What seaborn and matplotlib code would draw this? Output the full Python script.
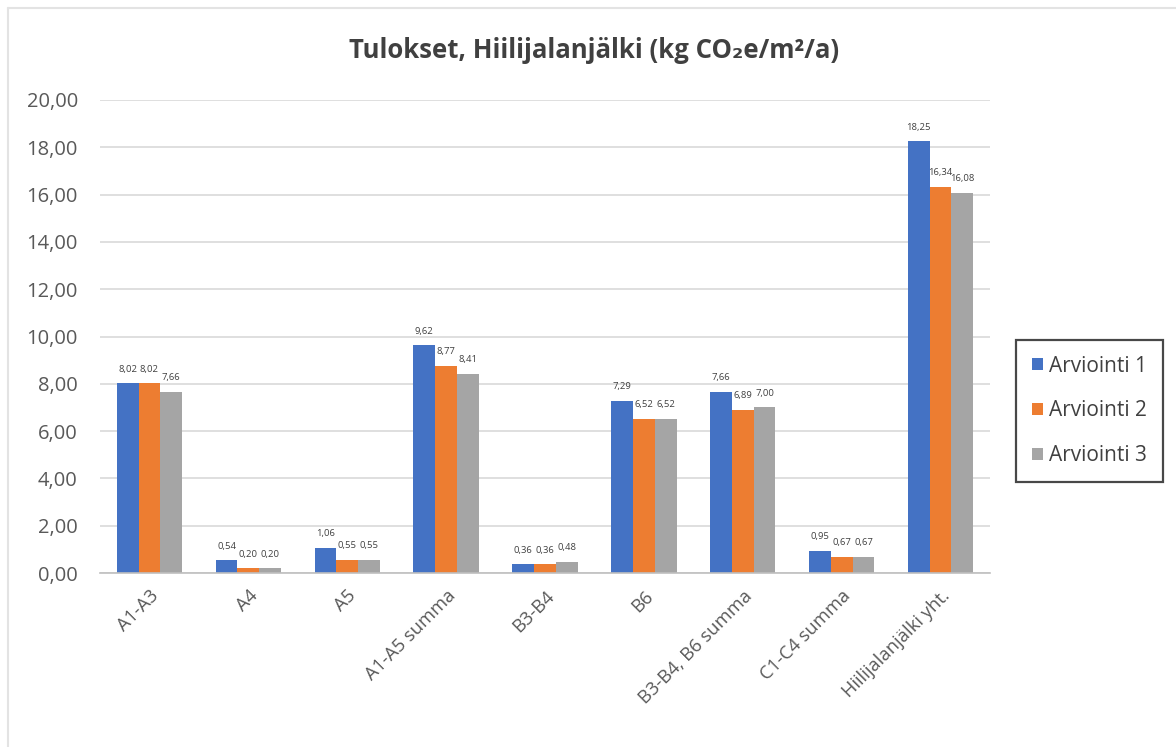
import matplotlib
matplotlib.use("Agg")
import matplotlib.pyplot as plt
import seaborn as sns
import pandas as pd
from matplotlib.lines import Line2D

categories = ["A1-A3", "A4", "A5", "A1-A5 summa", "B3-B4", "B6",
              "B3-B4, B6 summa", "C1-C4 summa", "Hiilijalanjälki yht."]
series_names = ["Arviointi 1", "Arviointi 2", "Arviointi 3"]
arviointi_1 = [8.02, 0.54, 1.06, 9.62, 0.36, 7.29, 7.66, 0.95, 18.25]
arviointi_2 = [8.02, 0.20, 0.55, 8.77, 0.36, 6.52, 6.89, 0.67, 16.34]
arviointi_3 = [7.66, 0.20, 0.55, 8.41, 0.48, 6.52, 7.00, 0.67, 16.08]
y_ticks = [0, 2, 4, 6, 8, 10, 12, 14, 16, 18, 20]
colors = ["#4472C4", "#ED7D31", "#A5A5A5"]

rows = []
for name, vals in zip(series_names, [arviointi_1, arviointi_2, arviointi_3]):
    for cat, v in zip(categories, vals):
        rows.append({"Kategoria": cat, "Sarja": name, "Arvo": v})
df = pd.DataFrame(rows)

sns.set_theme(style="white")
plt.rcParams["font.family"] = ["Open Sans", "DejaVu Sans"]

fig = plt.figure(figsize=(11.76, 7.47), dpi=100)
ax = fig.add_axes([100 / 1176, 174 / 747, 890 / 1176, 473 / 747])

sns.barplot(data=df, x="Kategoria", y="Arvo", hue="Sarja", order=categories,
            hue_order=series_names, palette=colors, width=0.66, gap=0,
            saturation=1, errorbar=None, ax=ax, legend=False, linewidth=0)

for cont in ax.containers:
    ax.bar_label(cont, labels=[f"{b.get_height():.2f}".replace(".", ",") for b in cont],
                 padding=7, fontsize=6.8, color="#404040")

ax.set_ylim(0, 20)
ax.set_xlim(-0.5, len(categories) - 0.5)
ax.set_yticks(y_ticks)
ax.set_yticklabels([f"{t:.2f}".replace(".", ",") for t in y_ticks],
                   fontsize=14.5, color="#595959")
ax.set_xticks(range(len(categories)))
ax.set_xticklabels(categories, rotation=45, ha="right", rotation_mode="anchor",
                   fontsize=13.2, color="#595959")
ax.tick_params(axis="y", length=0, pad=16)
ax.tick_params(axis="x", length=0, pad=10)
ax.grid(axis="y", color="#D9D9D9", linewidth=1.2)
ax.set_axisbelow(True)
for s in ["top", "right", "left"]:
    ax.spines[s].set_visible(False)
ax.spines["bottom"].set_color("#BFBFBF")
ax.spines["bottom"].set_linewidth(1.2)
ax.set_xlabel("")
ax.set_ylabel("")

fig.text(594 / 1176, 1 - 50 / 747, "Tulokset, Hiilijalanjälki (kg CO₂e/m²/a)",
         ha="center", va="center", fontsize=18.5, fontweight="bold", color="#404040")

handles = [plt.Rectangle((0, 0), 1, 1, facecolor=c, edgecolor="none") for c in colors]
leg = fig.legend(handles, series_names, loc="center left",
                 bbox_to_anchor=(1016 / 1176, 1 - 411 / 747), frameon=True,
                 fontsize=15, handlelength=0.55, handleheight=0.55,
                 handletextpad=0.3, labelspacing=1.15, borderpad=0.75,
                 borderaxespad=0, fancybox=False, edgecolor="#1A1A1A",
                 labelcolor="#404040")
leg.get_frame().set_linewidth(1.6)

# light chart frame along the left and top edges
fig.add_artist(Line2D([8 / 1176, 8 / 1176], [0, 1 - 8 / 747],
                      transform=fig.transFigure, color="#E3E3E3", linewidth=1.5))
fig.add_artist(Line2D([8 / 1176, 1], [1 - 8 / 747, 1 - 8 / 747],
                      transform=fig.transFigure, color="#E3E3E3", linewidth=1.5))

fig.savefig("out.png", dpi=100, facecolor="white")
